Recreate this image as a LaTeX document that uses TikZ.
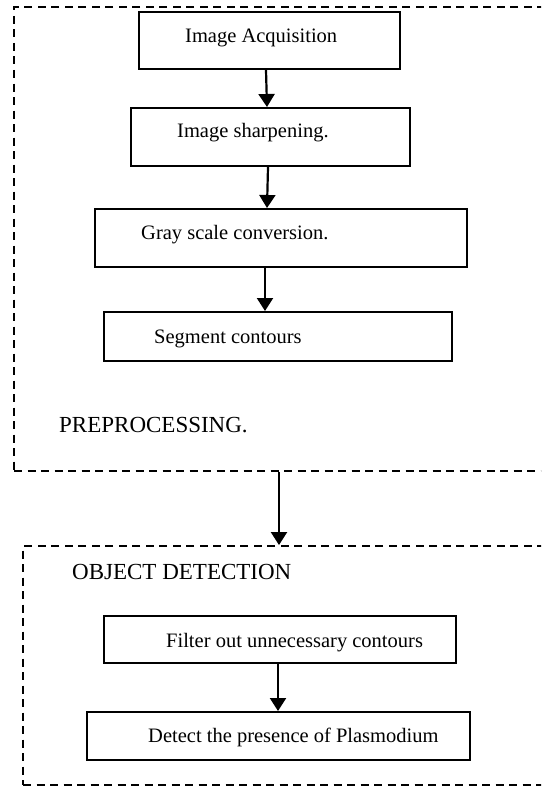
\documentclass[tikz,border=0pt]{standalone}
\usepackage{fontspec}
\setmainfont{Liberation Serif}
\usetikzlibrary{arrows.meta}
\begin{document}
\begin{tikzpicture}[x=1pt,y=-1pt,
  box/.style={draw,line width=2pt,inner sep=0pt,rectangle},
  frame/.style={draw,line width=1.9pt,dash pattern=on 8pt off 5.5pt,inner sep=0pt,rectangle},
  txt/.style={anchor=base west,inner sep=0pt,font=\fontsize{20.5}{24}\selectfont},
  lbl/.style={anchor=base west,inner sep=0pt,font=\fontsize{23}{27}\selectfont},
  arr/.style={line width=2.2pt,-{Triangle[length=13pt,width=16pt]}}]
\clip (0,0) rectangle (541,787);
% frames
\node[frame,minimum width=560pt,minimum height=464pt] (pre) at (294,239) {};
\node[frame,minimum width=560pt,minimum height=239pt] (obj) at (303,665.5) {};
% boxes
\node[box,minimum width=261pt,minimum height=57pt] (b1) at (269.5,40.5) {};
\node[box,minimum width=279pt,minimum height=58pt] (b2) at (270.5,137) {};
\node[box,minimum width=372pt,minimum height=58pt] (b3) at (281,238) {};
\node[box,minimum width=348pt,minimum height=49pt] (b4) at (278,336.5) {};
\node[box,minimum width=352pt,minimum height=47pt] (b5) at (280,639.5) {};
\node[box,minimum width=383pt,minimum height=48pt] (b6) at (278.5,736) {};
% texts
\node[txt] (t1) at (185,42) {Image Acquisition};
\node[txt] (t2) at (177,137) {Image sharpening.};
\node[txt] (t3) at (141,239) {Gray scale conversion.};
\node[txt] (t4) at (154,343) {Segment contours};
\node[txt] (t5) at (166,647) {Filter out unnecessary contours};
\node[txt] (t6) at (148,742) {Detect the presence of Plasmodium};
\node[lbl] (l1) at (59,432) {PREPROCESSING.};
\node[lbl] (l2) at (72,579) {OBJECT DETECTION};
% arrows
\draw[arr] (266,0 |- b1.south) -- (267,0 |- b2.north);
\draw[arr] (268,0 |- b2.south) -- (267,0 |- b3.north);
\draw[arr] (265,0 |- b3.south) -- (265,0 |- b4.north);
\draw[arr] (279,0 |- pre.south) -- (279,0 |- obj.north);
\draw[arr] (278,0 |- b5.south) -- (278,0 |- b6.north);
\end{tikzpicture}
\end{document}
